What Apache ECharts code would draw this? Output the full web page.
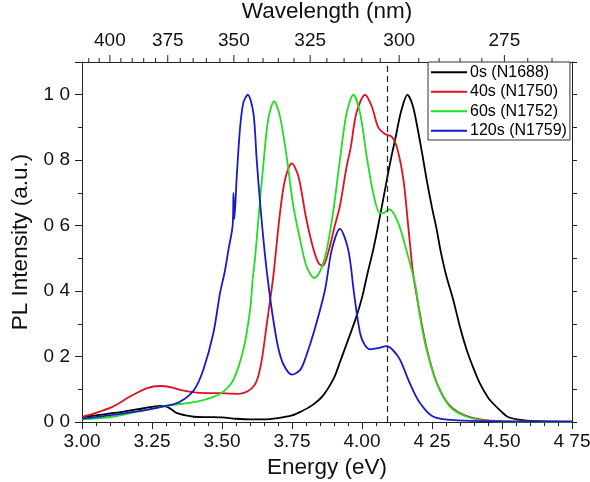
<!DOCTYPE html>
<html><head><meta charset="utf-8">
<script src="https://cdn.jsdelivr.net/npm/echarts@6/dist/echarts.min.js"></script>
<style>html,body{margin:0;padding:0;background:#fff}#c{width:590px;height:482px}</style>
</head><body><div id="c"></div>
<script>
var seriesNames = ['0s (N1688)', '40s (N1750)', '60s (N1752)', '120s (N1759)'];
var seriesColors = ['#000000', '#e01020', '#22dd22', '#1a1ac8'];

var black = [[3.00,0.015],[3.05,0.02],[3.10,0.026],[3.15,0.032],[3.20,0.039],[3.25,0.046],[3.28,0.049],[3.30,0.048],[3.32,0.038],[3.34,0.027],[3.37,0.02],[3.40,0.016],[3.45,0.015],[3.50,0.014],[3.55,0.010],[3.60,0.008],[3.65,0.008],[3.70,0.012],[3.75,0.02],[3.78,0.031],[3.82,0.05],[3.86,0.08],[3.90,0.135],[3.92,0.18],[3.95,0.25],[3.98,0.322],[4.00,0.38],[4.02,0.455],[4.04,0.526],[4.06,0.61],[4.08,0.70],[4.10,0.79],[4.12,0.87],[4.14,0.95],[4.162,1.0],[4.18,0.97],[4.195,0.913],[4.215,0.82],[4.231,0.74],[4.25,0.655],[4.267,0.587],[4.28,0.526],[4.30,0.45],[4.326,0.373],[4.35,0.29],[4.374,0.22],[4.40,0.16],[4.421,0.118],[4.45,0.075],[4.47,0.055],[4.50,0.03],[4.52,0.016],[4.56,0.007],[4.60,0.003],[4.75,0.001]];

var red = [[3.00,0.016],[3.05,0.028],[3.11,0.047],[3.17,0.077],[3.23,0.103],[3.28,0.110],[3.32,0.106],[3.35,0.098],[3.41,0.090],[3.49,0.088],[3.56,0.086],[3.59,0.093],[3.62,0.118],[3.64,0.18],[3.66,0.30],[3.683,0.444],[3.707,0.638],[3.725,0.74],[3.749,0.79],[3.773,0.75],[3.80,0.625],[3.826,0.53],[3.845,0.485],[3.86,0.477],[3.88,0.52],[3.90,0.59],[3.921,0.66],[3.945,0.78],[3.96,0.84],[3.98,0.944],[4.011,1.0],[4.035,0.964],[4.058,0.90],[4.082,0.88],[4.106,0.872],[4.124,0.842],[4.148,0.74],[4.166,0.59],[4.183,0.45],[4.207,0.33],[4.231,0.225],[4.267,0.12],[4.314,0.05],[4.374,0.018],[4.46,0.004],[4.60,0.001],[4.75,0.0]];

var green = [[3.00,0.008],[3.11,0.016],[3.23,0.037],[3.30,0.049],[3.35,0.055],[3.41,0.062],[3.47,0.077],[3.505,0.093],[3.54,0.128],[3.576,0.22],[3.60,0.34],[3.61,0.44],[3.618,0.50],[3.63,0.62],[3.648,0.79],[3.665,0.924],[3.686,0.98],[3.707,0.934],[3.731,0.81],[3.755,0.658],[3.779,0.557],[3.802,0.475],[3.83,0.44],[3.85,0.46],[3.874,0.526],[3.898,0.648],[3.921,0.80],[3.945,0.944],[3.969,1.0],[3.993,0.944],[4.017,0.81],[4.04,0.70],[4.064,0.638],[4.08,0.64],[4.098,0.65],[4.13,0.607],[4.16,0.52],[4.189,0.424],[4.207,0.322],[4.231,0.22],[4.267,0.118],[4.314,0.047],[4.374,0.016],[4.457,0.003],[4.60,0.001],[4.75,0.0]];

var blue = [[3.00,0.01],[3.11,0.022],[3.23,0.037],[3.30,0.049],[3.35,0.062],[3.40,0.098],[3.433,0.159],[3.469,0.271],[3.493,0.394],[3.51,0.46],[3.523,0.526],[3.538,0.60],[3.541,0.70],[3.544,0.62],[3.548,0.67],[3.552,0.74],[3.564,0.893],[3.576,0.975],[3.592,1.0],[3.612,0.945],[3.624,0.80],[3.636,0.67],[3.648,0.557],[3.66,0.46],[3.68,0.33],[3.70,0.23],[3.72,0.175],[3.75,0.145],[3.78,0.16],[3.80,0.20],[3.83,0.28],[3.868,0.404],[3.892,0.526],[3.921,0.59],[3.951,0.526],[3.972,0.39],[3.993,0.272],[4.01,0.235],[4.03,0.222],[4.06,0.226],[4.088,0.232],[4.11,0.22],[4.136,0.19],[4.171,0.118],[4.207,0.058],[4.255,0.016],[4.34,0.005],[4.50,0.002],[4.75,0.001]];

var xTickLabels = ['3.00','3.25','3.50','3.75','4.00','4 25','4.50','4 75'];
var yTickLabels = ['0 0','0 2','0 4','0 6','0 8','1 0'];
var wavelengthTicks = [400, 375, 350, 325, 300, 275];
var wavelengthMinor = [410,405,395,390,385,380,370,365,360,355,345,340,335,330,320,315,310,305,295,290,285,280,270,265];
var dashedEnergy = 4.09;
var HC = 1239.84;

var FONT = 'Liberation Sans, Arial, sans-serif';
var AX = '#222';
var chart = echarts.init(document.getElementById('c'));
var datas = [black, red, green, blue];

var series = datas.map(function (d, i) {
  var s = {
    name: seriesNames[i], type: 'line', data: d, symbol: 'none', showSymbol: false, smooth: 0.3,
    xAxisIndex: 0, yAxisIndex: 0,
    lineStyle: { color: seriesColors[i], width: 1.8 }, itemStyle: { color: seriesColors[i] }
  };
  if (i === 0) {
    s.markLine = {
      silent: true, symbol: 'none', label: { show: false },
      lineStyle: { color: '#222', type: [6, 4], width: 1.2 },
      data: [{ xAxis: dashedEnergy }]
    };
  }
  return s;
});

// top wavelength ticks (major + minor), positioned through the energy axis
var topTickData = wavelengthTicks.map(function (w) { return [HC / w, 1.1, 7]; })
  .concat(wavelengthMinor.map(function (w) { return [HC / w, 1.1, 4]; }));
series.push({
  type: 'custom', name: 'topTicks', silent: true, clip: false,
  xAxisIndex: 1, yAxisIndex: 0, data: topTickData,
  renderItem: function (params, api) {
    var p = api.coord([api.value(0), api.value(1)]);
    var len = api.value(2);
    return { type: 'line', shape: { x1: p[0], y1: p[1], x2: p[0], y2: p[1] - len },
      style: { stroke: AX, lineWidth: 1 } };
  }
});

chart.setOption({
  animation: false,
  backgroundColor: '#fff',
  grid: { left: 82, right: 18, top: 62, bottom: 60, containLabel: false, outerBoundsMode: 'none' },
  legend: {
    orient: 'vertical', left: 428, top: 62,
    data: seriesNames,
    icon: 'rect',
    itemWidth: 36, itemHeight: 1.8, itemGap: 3,
    padding: [2, 3, 1, 3],
    borderColor: '#333', borderWidth: 1, backgroundColor: '#fff',
    textStyle: { fontSize: 16, fontFamily: FONT, color: '#000', lineHeight: 16.5, padding: [0, 0, 0, -2] },
    z: 10
  },
  xAxis: [
    {
      type: 'value', min: 3, max: 4.75, interval: 0.25, position: 'bottom',
      name: 'Energy (eV)', nameLocation: 'middle', nameGap: 34,
      nameTextStyle: { fontSize: 22.5, fontFamily: FONT, color: '#111' },
      axisLine: { show: true, onZero: false, lineStyle: { color: AX, width: 1 } },
      axisTick: { show: true, inside: false, length: 7, lineStyle: { color: AX } },
      minorTick: { show: true, splitNumber: 5, length: 4, lineStyle: { color: AX } },
      splitLine: { show: false },
      axisLabel: { fontSize: 19, fontFamily: FONT, color: '#111', margin: 10,
        formatter: function (v) { return xTickLabels[Math.round((v - 3) / 0.25)] || ''; } }
    },
    {
      type: 'value', min: 3, max: 4.75, position: 'top',
      name: 'Wavelength (nm)', nameLocation: 'middle', nameGap: 39,
      nameTextStyle: { fontSize: 22.5, fontFamily: FONT, color: '#111' },
      axisLine: { show: true, onZero: false, lineStyle: { color: AX, width: 1 } },
      axisTick: { show: false },
      splitLine: { show: false },
      axisLabel: { fontSize: 19, fontFamily: FONT, color: '#111', margin: 12,
        customValues: wavelengthTicks.map(function (w) { return HC / w; }),
        formatter: function (v) { return String(Math.round(HC / v)); } }
    }
  ],
  yAxis: [
    {
      type: 'value', min: 0, max: 1.1, interval: 0.2, position: 'left',
      name: 'PL Intensity (a.u.)', nameLocation: 'middle', nameGap: 47,
      nameTextStyle: { fontSize: 22.5, fontFamily: FONT, color: '#111' },
      axisLine: { show: true, onZero: false, lineStyle: { color: AX, width: 1 } },
      axisTick: { show: true, inside: false, length: 7, lineStyle: { color: AX } },
      minorTick: { show: true, splitNumber: 2, length: 4, lineStyle: { color: AX } },
      splitLine: { show: false },
      axisLabel: { fontSize: 19, fontFamily: FONT, color: '#111', margin: 12, showMaxLabel: false,
        formatter: function (v) { var k = Math.round(v / 0.2); return Math.abs(k * 0.2 - v) < 1e-6 ? (yTickLabels[k] || '') : ''; } }
    },
    {
      type: 'value', min: 0, max: 1.1, interval: 0.1, position: 'right',
      axisLine: { show: true, onZero: false, lineStyle: { color: AX, width: 1 } },
      axisTick: { show: true, inside: false, length: 5, lineStyle: { color: AX } },
      axisLabel: { show: false },
      splitLine: { show: false }
    }
  ],
  series: series
});
</script></body></html>
